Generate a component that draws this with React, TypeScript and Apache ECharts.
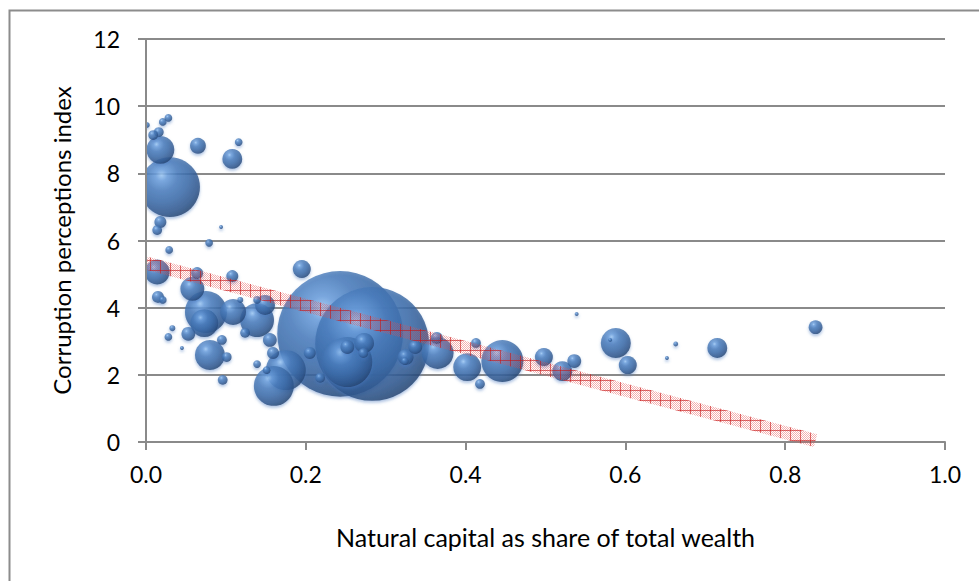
import React, { useEffect, useRef } from "react";
import * as echarts from "echarts";

// ---- data ----
const xTickLabels = ["0.0", "0.2", "0.4", "0.6", "0.8", "1.0"];
const yTickLabels = ["0", "2", "4", "6", "8", "10", "12"];

const naturalCapitalShare = [
  0.001, 0.021, 0.028, 0.016, 0.009, 0.018, 0.065, 0.116, 0.108, 0.030,
  0.018, 0.014, 0.094, 0.079, 0.029, 0.014, 0.064, 0.108, 0.195, 0.058,
  0.015, 0.021, 0.149, 0.118, 0.139, 0.075, 0.109, 0.139, 0.073, 0.033,
  0.028, 0.053, 0.045, 0.095, 0.124, 0.155, 0.159, 0.080, 0.101, 0.096,
  0.139, 0.151, 0.175, 0.160, 0.205, 0.218, 0.243, 0.283, 0.252, 0.252,
  0.273, 0.272, 0.325, 0.324, 0.337, 0.365, 0.364, 0.402, 0.413, 0.418,
  0.446, 0.498, 0.521, 0.536, 0.539, 0.588, 0.581, 0.603, 0.652, 0.663,
  0.715, 0.838,
];
const corruptionIndex = [
  9.44, 9.53, 9.65, 9.23, 9.14, 8.7, 8.82, 8.93, 8.43, 7.59,
  6.55, 6.31, 6.4, 5.93, 5.72, 5.06, 5.03, 4.94, 5.15, 4.56,
  4.32, 4.23, 4.08, 4.23, 4.23, 3.87, 3.87, 3.63, 3.54, 3.39,
  3.13, 3.22, 2.8, 3.04, 3.25, 3.04, 2.65, 2.59, 2.53, 1.85,
  2.32, 2.14, 2.14, 1.67, 2.65, 1.91, 3.22, 2.92, 2.38, 2.83,
  2.95, 2.65, 2.53, 2.41, 2.83, 2.65, 3.1, 2.23, 2.95, 1.73,
  2.41, 2.53, 2.11, 2.41, 3.81, 2.95, 3.04, 2.29, 2.5, 2.92,
  2.8, 3.42,
];
const bubbleSize = [
  3, 5, 5, 8, 8, 65, 21, 5, 33, 300,
  12, 8, 1.3, 5, 5, 52, 12, 12, 27, 48,
  12, 5, 33, 3, 5, 147, 56, 96, 65, 3,
  5, 16, 1.3, 8, 8, 16, 12, 75, 8, 8,
  5, 5, 133, 133, 12, 8, 1320, 1083, 208, 16,
  33, 8, 21, 5, 16, 85, 12, 65, 8, 8,
  147, 27, 33, 16, 1.3, 75, 1.3, 27, 1.3, 2,
  33, 16,
];

const trendX = [0, 0.838];
const trendY = [5.33, 0.04];

const xTitle = "Natural capital as share of total wealth";
const yTitle = "Corruption perceptions index";

const FONT = "Lato";

function makeHatch(): HTMLCanvasElement {
  const c = document.createElement("canvas");
  c.width = 10;
  c.height = 10;
  const g = c.getContext("2d")!;
  for (let i = 0; i < 10; i++) {
    for (let j = 0; j < 10; j++) {
      if ((i + j) % 2 === 0) {
        g.fillStyle = "rgba(228,80,80,0.45)";
        g.fillRect(i, j, 1, 1);
      }
    }
  }
  g.fillStyle = "rgba(200,20,20,0.6)";
  g.fillRect(0, 0, 10, 1);
  g.fillRect(0, 0, 1, 10);
  return c;
}

export default function App() {
  const ref = useRef<HTMLDivElement>(null);

  useEffect(() => {
    if (!ref.current) return;
    const chart = echarts.init(ref.current, null, { renderer: "svg" });

    const points = naturalCapitalShare.map((x, i) => [x, corruptionIndex[i], bubbleSize[i]]);
    points.sort((a, b) => b[2] - a[2]);

    const bubbleFill = new echarts.graphic.RadialGradient(0.36, 0.3, 0.75, [
      { offset: 0, color: "#a0cbf6" },
      { offset: 0.13, color: "#6c9fdc" },
      { offset: 0.35, color: "#4a7cbb" },
      { offset: 0.6, color: "#3a6aa6" },
      { offset: 0.85, color: "#2c5287" },
      { offset: 1, color: "#1f3d66" },
    ]);

    const hatch = makeHatch();

    chart.setOption({
      animation: false,
      backgroundColor: "#ffffff",
      grid: {
        left: 146,
        right: 34,
        top: 39,
        bottom: 139,
        containLabel: false,
        outerBoundsMode: "none",
      },
      xAxis: {
        type: "value",
        min: 0,
        max: 1,
        interval: 0.2,
        name: xTitle,
        nameLocation: "middle",
        nameGap: 82,
        nameTextStyle: { fontFamily: FONT, fontSize: 25, color: "#000" },
        axisLine: { show: true, lineStyle: { color: "#8a8a8a", width: 2 } },
        axisTick: { show: true, inside: false, length: 8, lineStyle: { color: "#8a8a8a", width: 2 } },
        axisLabel: {
          margin: 20,
          fontFamily: FONT,
          fontSize: 23,
          color: "#000",
          formatter: (v: number) => xTickLabels[Math.round(v / 0.2)] ?? "",
        },
        splitLine: { show: false },
      },
      yAxis: [
        {
          type: "value",
          min: 0,
          max: 12,
          interval: 2,
          position: "left",
          z: 0,
          axisLine: { show: false },
          axisTick: { show: false },
          axisLabel: { show: false },
          splitLine: { show: true, lineStyle: { color: "#8a8a8a", width: 2 } },
        },
        {
          type: "value",
          min: 0,
          max: 12,
          interval: 2,
          position: "left",
          z: 10,
          name: yTitle,
          nameLocation: "middle",
          nameGap: 73,
          nameRotate: 90,
          nameTextStyle: { fontFamily: FONT, fontSize: 24, color: "#000" },
          axisLine: { show: true, onZero: false, lineStyle: { color: "#8a8a8a", width: 2 } },
          axisTick: { show: true, inside: false, length: 8, lineStyle: { color: "#8a8a8a", width: 2 } },
          axisLabel: {
            margin: 26,
            fontFamily: FONT,
            fontSize: 23,
            color: "#000",
            formatter: (v: number) => yTickLabels[Math.round(v / 2)] ?? "",
          },
          splitLine: { show: false },
        },
      ],
      graphic: [
        {
          type: "rect",
          z: 5,
          silent: true,
          shape: { x: 80, y: 25, width: 65, height: 416 },
          style: { fill: "#ffffff" },
        },
        {
          type: "rect",
          z: 20,
          silent: true,
          shape: { x: 9.5, y: 10.5, width: 1200, height: 800 },
          style: { fill: "none", stroke: "#8c8c8c", lineWidth: 2 },
        },
      ],
      series: [
        {
          type: "scatter",
          yAxisIndex: 0,
          z: 2,
          data: points,
          symbolSize: (val: number[]) => 3.46 * Math.sqrt(val[2]),
          itemStyle: {
            color: bubbleFill,
            shadowBlur: 3,
            shadowOffsetY: 2,
            shadowColor: "rgba(70,120,190,0.55)",
          },
          emphasis: { disabled: true },
        },
        {
          type: "line",
          yAxisIndex: 0,
          z: 3,
          data: trendX.map((x, i) => [x, trendY[i]]),
          symbol: "none",
          clip: true,
          lineStyle: {
            width: 13,
            cap: "butt",
            color: { image: hatch, repeat: "repeat", imageWidth: 10, imageHeight: 10 },
          },
          emphasis: { disabled: true },
        },
      ],
    });

    return () => chart.dispose();
  }, []);

  return (
    <div
      ref={ref}
      style={{ position: "absolute", left: 0, top: 0, width: 979, height: 581 }}
    />
  );
}
